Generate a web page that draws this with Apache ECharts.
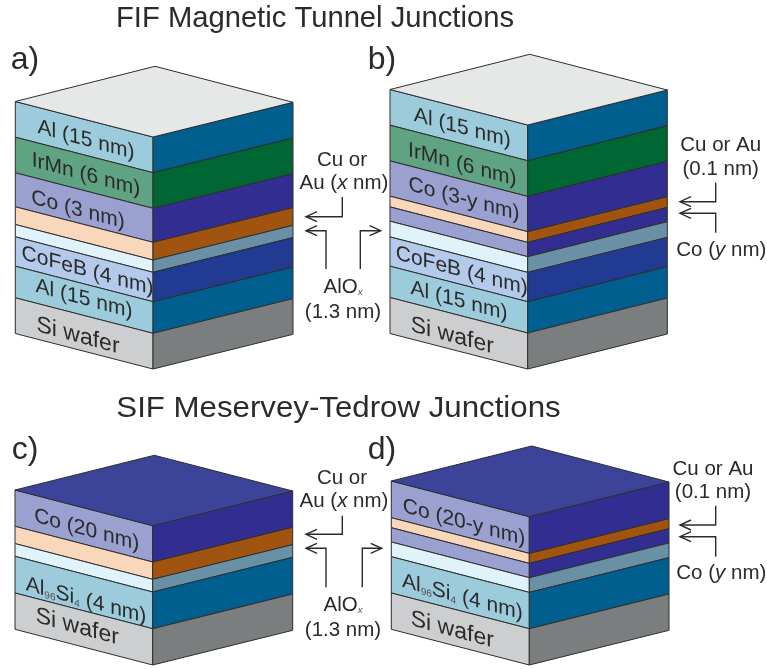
<!DOCTYPE html>
<html><head><meta charset="utf-8">
<style>html,body{margin:0;padding:0;background:#fff}#c{width:767px;height:669px}</style>
<script src="https://cdn.jsdelivr.net/npm/echarts@6/dist/echarts.min.js"></script>
</head><body><div id="c"></div>
<script>
// Layer materials, top to bottom, and their thickness as drawn on the front edge
const panelA_layers = ['Al','IrMn','Co','Cu','AlOx','CoFeB','Al','Si'];
const panelA_thick  = [35.7,35.6,34,17.7,12.3,29.4,31.6,35.7];
const panelB_layers = ['Al','IrMn','Co','Cu','Co','AlOx','CoFeB','Al','Si'];
const panelB_thick  = [35.7,35.7,35.3,10.7,14.3,15.7,29.3,31.3,36];
const panelC_layers = ['Co','Cu','AlOx','AlSi','Si'];
const panelC_thick  = [36.3,17.3,12.7,36.7,36.3];
const panelD_layers = ['Co','Cu','Co','AlOx','AlSi','Si'];
const panelD_thick  = [36.7,10,14.3,14.7,36.3,36.3];
const titles = ['FIF Magnetic Tunnel Junctions','SIF Meservey-Tedrow Junctions'];
const panelNames = ['a)','b)','c)','d)'];
const layerLabelsA = ['Al (15 nm)','IrMn (6 nm)','Co (3 nm)','CoFeB (4 nm)','Al (15 nm)','Si wafer'];
const layerLabelsB = ['Al (15 nm)','IrMn (6 nm)','Co (3-y nm)','CoFeB (4 nm)','Al (15 nm)','Si wafer'];
const layerLabelsC = ['Co (20 nm)','Al{s|96}Si{s|4} (4 nm)','Si wafer'];
const layerLabelsD = ['Co (20-y nm)','Al{s|96}Si{s|4} (4 nm)','Si wafer'];
const sideLabelsAC = ['Cu or','Au ({i|x} nm)','AlO{si|x}','(1.3 nm)'];
const sideLabelsBD = ['Cu or Au','(0.1 nm)','Co ({i|y} nm)'];

const faceColors = {
  Al:['#9ccbdc','#005f8f'], IrMn:['#5fa383','#006633'], Co:['#9aa0d0','#322e91'],
  Cu:['#f8d7bb','#a0540f'], AlOx:['#e1f3fa','#6a90a5'], CoFeB:['#b4caeb','#213b93'],
  AlSi:['#9ccbdc','#005f8f'], Si:['#cdced0','#7a7e7f']
};
const INK = '#2e2e2e';
const block = [
  {layers:panelA_layers,thick:panelA_thick,l:15.3,c:153,r:293,ly:101.5,cy:137,ry:102.3,ax:155,ay:66.3,top:'#e6e8e8'},
  {layers:panelB_layers,thick:panelB_thick,l:390,c:527.7,r:667.3,ly:89.5,cy:125,ry:90,ax:529.7,ay:54.3,top:'#e6e8e8'},
  {layers:panelC_layers,thick:panelC_thick,l:15,c:152.7,r:292.7,ly:490,cy:525.7,ry:491,ax:154.3,ay:455.3,top:'#3b4499'},
  {layers:panelD_layers,thick:panelD_thick,l:391.3,c:529.3,r:669,ly:481,cy:516.7,ry:482,ax:531.7,ay:446,top:'#3b4499'}
];
function blockSeries(b){
  let acc=0;
  const rows=b.thick.map((t,i)=>{const r=[i,acc,t];acc+=t;return r;});
  return {type:'custom',coordinateSystem:'cartesian2d',clip:false,silent:true,data:rows,
    renderItem(p,api){
      const i=api.value(0),d0=api.value(1),d1=d0+api.value(2);
      const col=faceColors[b.layers[i]];
      const P=(x,y)=>api.coord([x,y]);
      const st=(f)=>({fill:f,stroke:INK,lineWidth:1,lineJoin:'round'});
      const kids=[
        {type:'polygon',shape:{points:[P(b.l,b.ly+d0),P(b.c,b.cy+d0),P(b.c,b.cy+d1),P(b.l,b.ly+d1)]},style:st(col[0])},
        {type:'polygon',shape:{points:[P(b.c,b.cy+d0),P(b.r,b.ry+d0),P(b.r,b.ry+d1),P(b.c,b.cy+d1)]},style:st(col[1])}
      ];
      if(i===0) kids.push({type:'polygon',shape:{points:[P(b.l,b.ly),P(b.ax,b.ay),P(b.r,b.ry),P(b.c,b.cy)]},style:st(b.top)});
      return {type:'group',children:kids};
    }};
}
// Text table: label, centre x, centre y, font size, shear, horizontal scale
const R=-0.265, F=21, W=23, S=20.5;
const texts=[
  [titles[0],315,19,29.2,0,1],[titles[1],338.5,409,29.2,0,1.07],
  [panelNames[0],25,60,32,0,1],[panelNames[1],382,60,32,0,1],[panelNames[2],25,450,32,0,1],[panelNames[3],382,450,32,0,1],
  [layerLabelsA[0],86,140,F,R,1],[layerLabelsA[1],86,175,F,R,1],[layerLabelsA[2],78,210,F,R,1],[layerLabelsA[3],87.5,271,F,R,1],[layerLabelsA[4],84,299,F,R,1],[layerLabelsA[5],78,336,W,R,1],
  [layerLabelsB[0],462.3,128,F,R,1],[layerLabelsB[1],462.3,165,F,R,1],[layerLabelsB[2],464,199.3,F,R,1],[layerLabelsB[3],461.7,271,F,R,1],[layerLabelsB[4],459,301,F,R,1],[layerLabelsB[5],452.3,336,W,R,1],
  [layerLabelsC[0],86.7,530,F,R,1],[layerLabelsC[1],86,600.7,F,R,1],[layerLabelsC[2],77.3,627,W,R,1],
  [layerLabelsD[0],464,522.7,F,R,1],[layerLabelsD[1],462.3,597.3,F,R,1],[layerLabelsD[2],452.3,630,W,R,1],
  [sideLabelsAC[0],342,160,S,0,1],[sideLabelsAC[1],344,183,S,0,1],[sideLabelsAC[2],343,287,S,0,1],[sideLabelsAC[3],343,312.7,S,0,1],
  [sideLabelsAC[0],342,478.3,S,0,1],[sideLabelsAC[1],344,501.7,S,0,1],[sideLabelsAC[2],343,605,S,0,1],[sideLabelsAC[3],343,630.7,S,0,1],
  [sideLabelsBD[0],720.7,145.7,S,0,1],[sideLabelsBD[1],720.7,169.3,S,0,1],[sideLabelsBD[2],721.3,250.7,S,0,1],
  [sideLabelsBD[0],713,469.3,S,0,1],[sideLabelsBD[1],713,492.7,S,0,1],[sideLabelsBD[2],721.3,573.3,S,0,1]
];
const FONT='"Liberation Sans",Arial,sans-serif';
const textSeries={type:'custom',coordinateSystem:'cartesian2d',clip:false,silent:true,
  data:texts.map((t,i)=>[t[1],t[2],i]),
  renderItem(p,api){
    const t=texts[api.value(2)],pt=api.coord([t[1],t[2]]);
    return {type:'text',x:pt[0],y:pt[1],skewY:t[4],scaleX:t[5],
      style:{text:t[0],x:0,y:0,align:'center',verticalAlign:'middle',fill:'#2b2b2b',
        fontFamily:FONT,fontSize:t[3],
        rich:{
          i:{fontStyle:'italic',fontSize:t[3],fontFamily:FONT,fill:'#2b2b2b'},
          s:{fontSize:t[3]*0.48,fontFamily:FONT,fill:'#555',verticalAlign:'bottom',lineHeight:t[3]*0.95},
          si:{fontStyle:'italic',fontSize:t[3]*0.48,fontFamily:FONT,fill:'#555',verticalAlign:'bottom',lineHeight:t[3]*0.95}
        }}};
  }};
// Elbow arrows: stem start x,y, corner y, arrow tip x
const arrows=[
  [342.3,197,216.7,306],[326,269,230.7,306],[360.3,269,230.7,380.7],
  [715.7,182.7,201.7,680],[715.7,232.7,213.3,680],
  [342.3,515.7,534.3,306],[326,587.3,548.3,306],[362.3,587.3,548.3,381.7],
  [715.7,505.7,525,680],[715.7,556.7,536.7,680]
];
const arrowSeries={type:'custom',coordinateSystem:'cartesian2d',clip:false,silent:true,
  data:arrows,
  renderItem(p,api){
    const x=api.value(0),y0=api.value(1),y1=api.value(2),tip=api.value(3);
    const dir=tip<x?1:-1, P=(a,b)=>api.coord([a,b]);
    const st={fill:null,stroke:'#2b2b2b',lineWidth:1.4};
    return {type:'group',children:[
      {type:'polyline',shape:{points:[P(x,y0),P(x,y1),P(tip,y1)]},style:st},
      {type:'polyline',shape:{points:[P(tip+dir*11,y1-5),P(tip,y1),P(tip+dir*11,y1+5)]},style:st}
    ]};
  }};
const chart=echarts.init(document.getElementById('c'));
chart.setOption({
  animation:false,backgroundColor:'#fff',
  grid:{left:0,right:0,top:0,bottom:0},
  xAxis:{type:'value',min:0,max:767,show:false},
  yAxis:{type:'value',min:0,max:669,inverse:true,show:false},
  series:[...block.map(blockSeries),arrowSeries,textSeries]
});
</script></body></html>
